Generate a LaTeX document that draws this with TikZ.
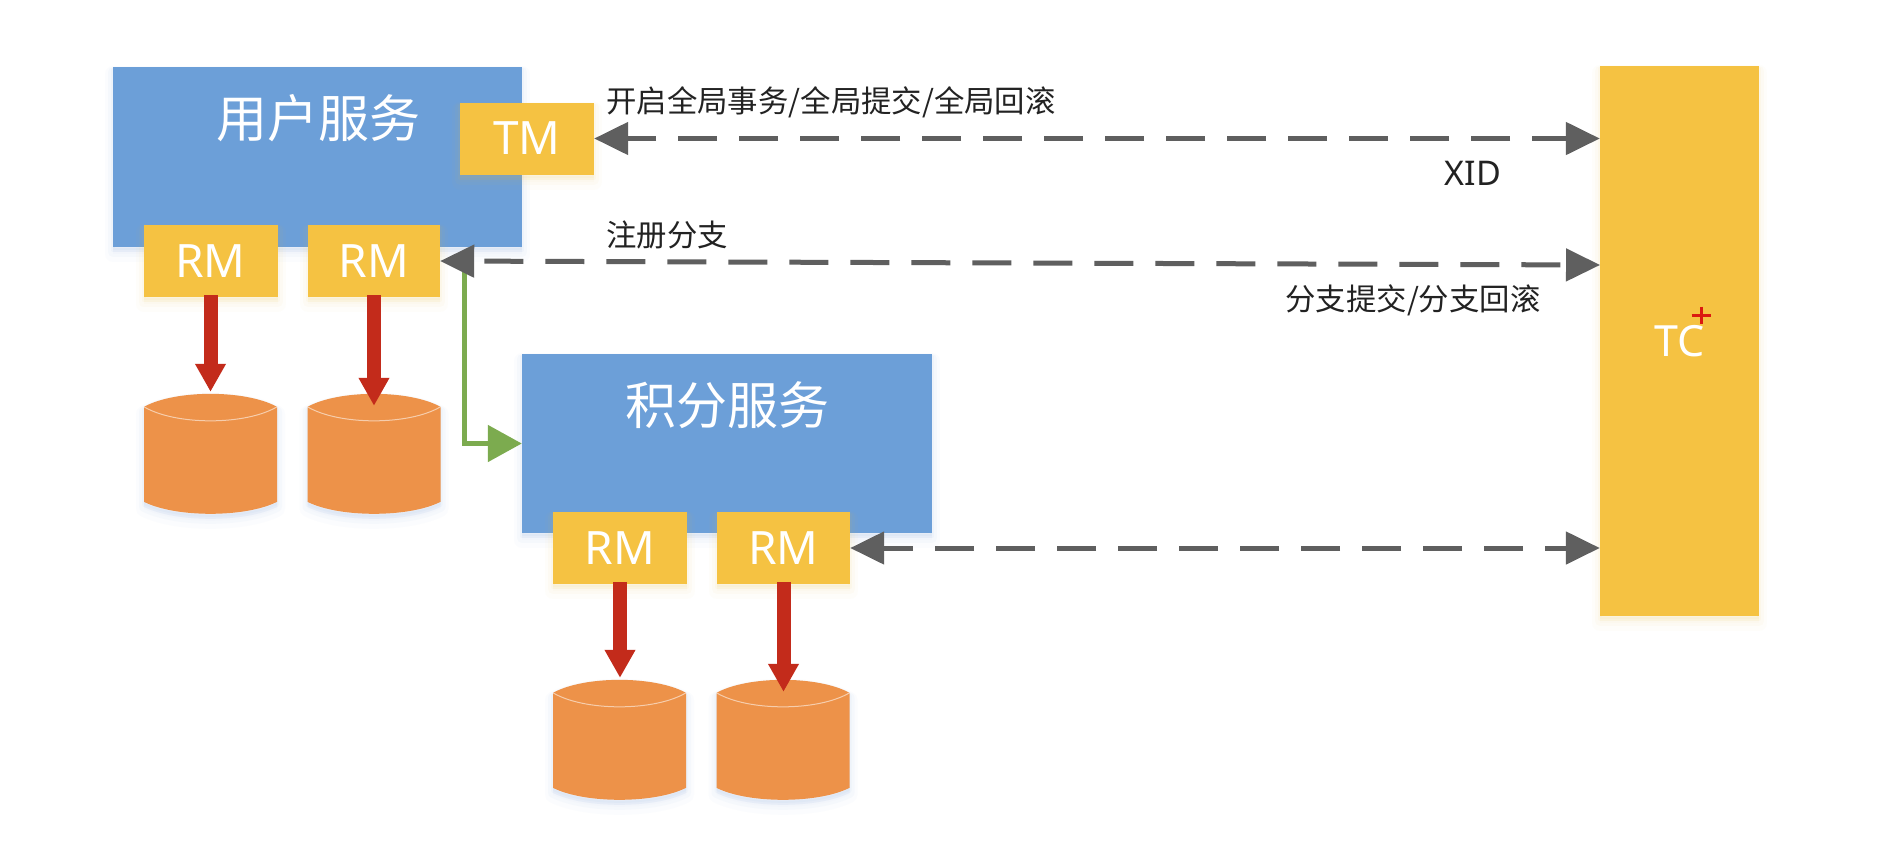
\documentclass[tikz,border=0pt]{standalone}
\usepackage{fontspec}
\setmainfont{Noto Sans}
\newfontfamily\cjk{Noto Sans CJK SC}
\usetikzlibrary{arrows.meta,calc}
\definecolor{bluebox}{HTML}{6C9FD8}
\definecolor{yellowbox}{HTML}{F5C242}
\definecolor{orangedb}{HTML}{ED9249}
\definecolor{redarrow}{HTML}{C32B1B}
\definecolor{grayarrow}{HTML}{5F5F5F}
\definecolor{greenarrow}{HTML}{7CAB4F}
\definecolor{labeltext}{HTML}{222222}
\tikzset{
  softsh/.style={
    preaction={draw=#1,fill=#1,line width=16pt,line join=round,opacity=.025,transform canvas={yshift=-7pt}},
    preaction={draw=#1,fill=#1,line width=10pt,line join=round,opacity=.035,transform canvas={yshift=-5pt}},
    preaction={draw=#1,fill=#1,line width=4pt,line join=round,opacity=.05,transform canvas={yshift=-3pt}}},
  svc/.style={rectangle,inner sep=0pt,fill=bluebox,softsh=bluebox},
  agent/.style={rectangle,inner sep=0pt,fill=yellowbox,softsh=yellowbox,text=white,font=\fontsize{46}{50}\selectfont,minimum height=72pt},
  svctitle/.style={text=white,inner sep=0pt,font=\cjk\fontsize{51}{56}\selectfont},
  lbl/.style={text=labeltext,inner sep=0pt,font=\cjk\fontsize{30.4}{34}\selectfont},
  dbbox/.style={rectangle,inner sep=0pt,minimum width=133pt,minimum height=120pt},
  dbfill/.style={fill=orangedb,softsh=bluebox},
  dbline/.style={draw=white,opacity=.55,line width=1pt},
  write/.style={draw=redarrow,line width=14pt,-{Triangle[length=28pt,width=29pt,fill=redarrow]}},
  rpc/.style={draw=grayarrow,line width=5pt,dash pattern=on 39pt off 22pt,
    {Triangle[length=34pt,width=32pt,fill=grayarrow]}-{Triangle[length=34pt,width=32pt,fill=grayarrow]}},
  call/.style={draw=greenarrow,line width=5pt,-{Triangle[length=34pt,width=36pt,fill=greenarrow]}},
}
\newcommand{\dbshape}[1]{%
  \path[dbfill] ($(#1.north)+(-66.5,13)$)
    .. controls ($(#1.north)+(-35,-4.3)$) and ($(#1.north)+(35,-4.3)$) .. ($(#1.north)+(66.5,13)$)
    -- ($(#1.north)+(66.5,108)$)
    .. controls ($(#1.north)+(35,124)$) and ($(#1.north)+(-35,124)$) .. ($(#1.north)+(-66.5,108)$)
    -- cycle;
  \path[dbline] ($(#1.north)+(-66.5,13)$)
    .. controls ($(#1.north)+(-35,31.7)$) and ($(#1.north)+(35,31.7)$) .. ($(#1.north)+(66.5,13)$);
}
\begin{document}
\begin{tikzpicture}[x=1pt,y=-1pt]
\useasboundingbox (0,0) rectangle (1886,860);
\fill[white] (0,0) rectangle (1886,860);

% service boxes
\node[svc,minimum width=409pt,minimum height=180pt] (user) at (317.5,157) {};
\node[svc,minimum width=410pt,minimum height=179pt] (points) at (727,443.5) {};
\node[svctitle] (usertitle) at (318,118) {用户服务};
\node[svctitle] (pointstitle) at (727,405) {积分服务};

% TC / TM / RM
\node[agent,minimum width=159pt,minimum height=550pt,font=\fontsize{43}{50}\selectfont] (tc) at (1679.5,341) {TC};
\node[agent,minimum width=134pt] (tm) at (527,138.5) {TM};
\node[agent,minimum width=134pt] (rm1) at (210.5,261) {RM};
\node[agent,minimum width=132pt] (rm2) at (374,261) {RM};
\node[agent,minimum width=134pt] (rm3) at (620,548) {RM};
\node[agent,minimum width=133pt] (rm4) at (783.5,548) {RM};

% databases
\node[dbbox] (db1) at (210.5,454) {};
\node[dbbox] (db2) at (374,454) {};
\node[dbbox] (db3) at (619.5,740) {};
\node[dbbox] (db4) at (783,740) {};
\dbshape{db1}\dbshape{db2}\dbshape{db3}\dbshape{db4}

% red arrows
\draw[write] ([yshift=2pt]rm1.south) -- ([yshift=2pt]db1.north);
\draw[write] ([yshift=2pt]rm2.south) -- ([yshift=-12pt]db2.north);
\draw[write] ([yshift=2pt]rm3.south) -- ([yshift=2pt,xshift=.5pt]db3.north);
\draw[write] ([yshift=2pt]rm4.south) -- ([yshift=-12pt,xshift=.5pt]db4.north);

% green call
\coordinate (callstart) at (464,262);
\draw[call] (callstart) |- (points.west);

% dashed links
\coordinate (tc1) at (tc.west |- tm.east);
\coordinate (tc2) at (1600,265);
\coordinate (tc3) at (tc.west |- rm4.east);
\draw[rpc,dash phase=4pt] (tc1) -- (tm.east);
\draw[rpc,dash phase=54pt] (tc2) -- (rm2.east);
\draw[rpc,dash phase=17pt] (tc3) -- (rm4.east);

% labels
\node[lbl] (l1) at (831,102) {开启全局事务/全局提交/全局回滚};
\node[text=labeltext,inner sep=0pt,font=\fontsize{34}{38}\selectfont] (xid) at (1473,173) {XID};
\node[lbl] (l2) at (667,235) {注册分支};
\node[lbl] (l3) at (1413,300) {分支提交/分支回滚};

% cursor mark
\coordinate (plusc) at (1701,315);
\draw[redarrow!60!red,line width=3pt] ($(plusc)+(-9.5,0)$) -- ($(plusc)+(9.5,0)$);
\draw[redarrow!60!red,line width=3pt] ($(plusc)+(0,-8.5)$) -- ($(plusc)+(0,8.5)$);
\end{tikzpicture}
\end{document}
